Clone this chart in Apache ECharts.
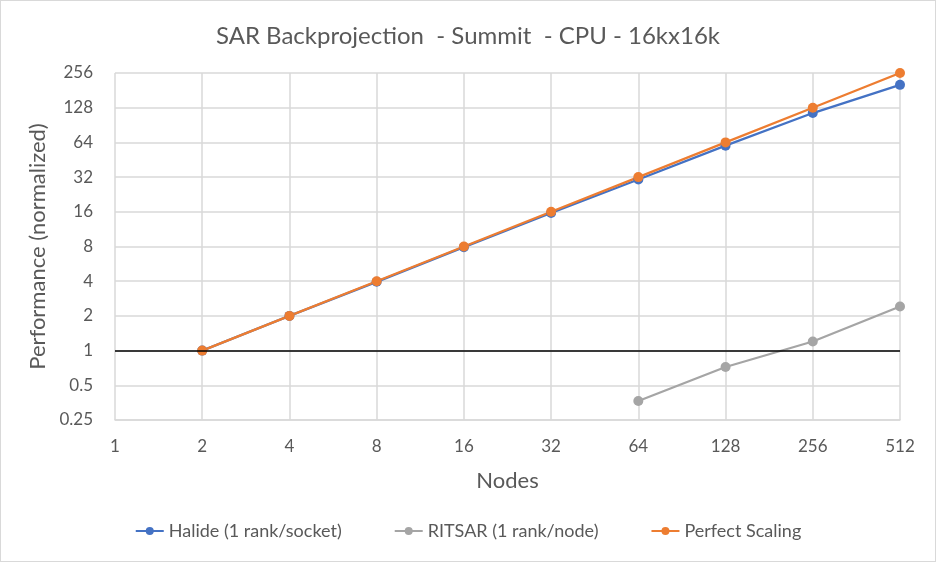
<!DOCTYPE html>
<html>
<head>
<meta charset="utf-8">
<script src="https://cdn.jsdelivr.net/npm/echarts@6/dist/echarts.min.js"></script>
<style>
  html, body { margin: 0; padding: 0; background: #ffffff; }
  #chart { width: 936px; height: 562px; box-sizing: border-box; border: 1px solid #d9d9d9; }
</style>
</head>
<body>
<div id="chart"></div>
<script>
// data
const nodes = [2, 4, 8, 16, 32, 64, 128, 256, 512];
const halide = [1, 2, 3.95, 7.9, 15.6, 30.5, 60, 115, 202];
const ritsarNodes = [64, 128, 256, 512];
const ritsar = [0.365, 0.72, 1.2, 2.41];
const perfect = [1, 2, 4, 8, 16, 32, 64, 128, 256];

const textColor = '#595959';
const gridColor = '#d9d9d9';
const font = 'Lato';

const pairs = (xs, ys) => xs.map((x, i) => [x, ys[i]]);
const fmt = v => String(+Number(v).toPrecision(3));

const myChart = echarts.init(document.getElementById('chart'));

const lineSeries = (name, data, color) => ({
  name: name,
  type: 'line',
  data: data,
  symbol: 'circle',
  symbolSize: 10,
  lineStyle: { color: color, width: 2.25 },
  itemStyle: { color: color },
  emphasis: { disabled: true }
});

const option = {
  backgroundColor: '#ffffff',
  animation: false,
  title: {
    text: 'SAR Backprojection  - Summit  - CPU - 16kx16k',
    left: 'center',
    top: 18,
    textStyle: { color: textColor, fontFamily: font, fontSize: 24, fontWeight: 'normal' }
  },
  grid: { left: 114, right: 35, top: 72, bottom: 141 },
  legend: {
    bottom: 16,
    left: 'center',
    itemWidth: 28,
    itemHeight: 10,
    itemGap: 52,
    textStyle: { color: textColor, fontFamily: font, fontSize: 18 },
    data: ['Halide (1 rank/socket)', 'RITSAR (1 rank/node)', 'Perfect Scaling']
  },
  xAxis: {
    type: 'log',
    logBase: 2,
    min: 1,
    max: 512,
    interval: 1,
    name: 'Nodes',
    nameLocation: 'middle',
    nameGap: 50,
    nameTextStyle: { color: textColor, fontFamily: font, fontSize: 22 },
    axisLine: { show: true, lineStyle: { color: gridColor, width: 1.5 } },
    axisTick: { show: false },
    axisLabel: { color: textColor, fontFamily: font, fontSize: 17, margin: 18, formatter: fmt },
    splitLine: { show: true, lineStyle: { color: gridColor, width: 1.5 } }
  },
  yAxis: {
    type: 'log',
    logBase: 2,
    min: 0.25,
    max: 256,
    interval: 1,
    name: 'Performance (normalized)',
    nameLocation: 'middle',
    nameGap: 64,
    nameTextStyle: { color: textColor, fontFamily: font, fontSize: 22 },
    axisLine: { show: false },
    axisTick: { show: false },
    axisLabel: { color: textColor, fontFamily: font, fontSize: 17, margin: 22, formatter: fmt },
    splitLine: { show: true, lineStyle: { color: gridColor, width: 1.5 } }
  },
  series: [
    Object.assign(lineSeries('Halide (1 rank/socket)', pairs(nodes, halide), '#4472c4'), {
      markLine: {
        silent: true,
        symbol: 'none',
        label: { show: false },
        lineStyle: { color: '#000000', width: 1.5, type: 'solid' },
        data: [{ yAxis: 1 }]
      }
    }),
    lineSeries('RITSAR (1 rank/node)', pairs(ritsarNodes, ritsar), '#a5a5a5'),
    lineSeries('Perfect Scaling', pairs(nodes, perfect), '#ed7d31')
  ]
};

myChart.setOption(option);
</script>
</body>
</html>
